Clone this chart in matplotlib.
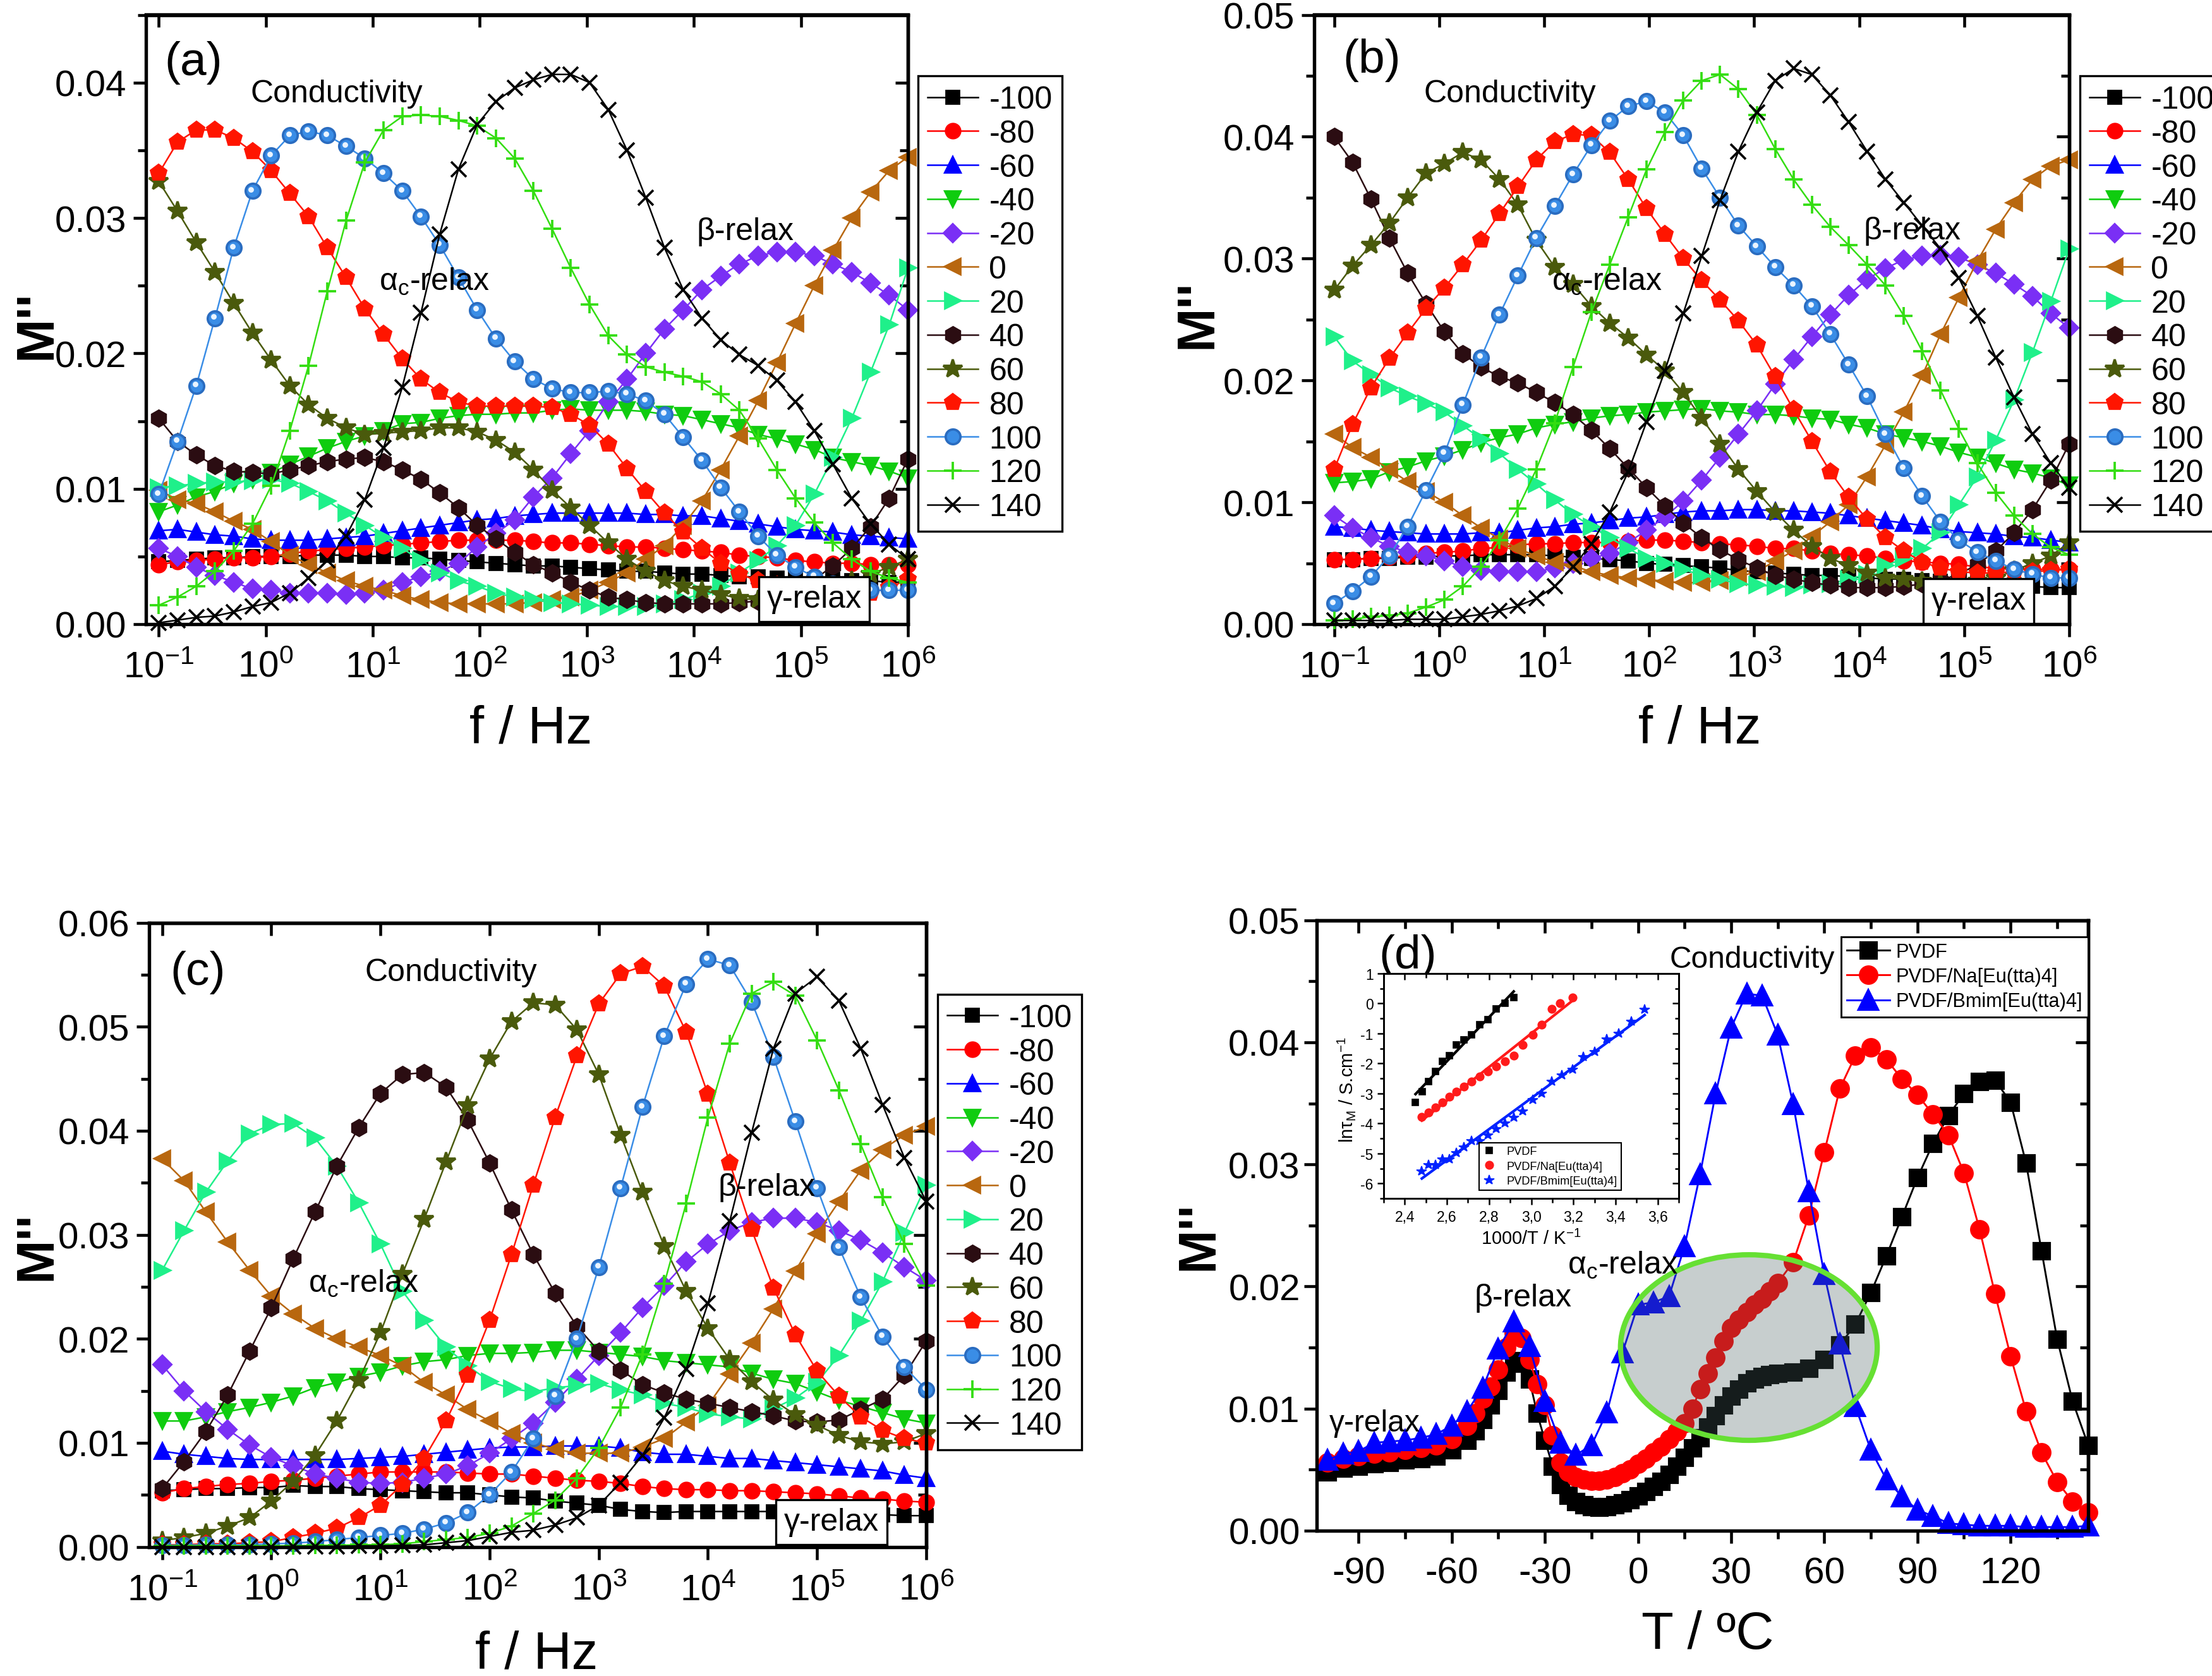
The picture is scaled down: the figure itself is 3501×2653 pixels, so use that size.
import numpy as np
import matplotlib
matplotlib.use("Agg")
import matplotlib.pyplot as plt
import matplotlib.transforms as mtransforms
from matplotlib.patches import Ellipse
from matplotlib.ticker import MultipleLocator, FuncFormatter, NullLocator, FixedLocator

plt.rcParams["font.family"] = ["Liberation Sans", "DejaVu Sans"]
plt.rcParams["mathtext.default"] = "regular"
plt.rcParams["axes.unicode_minus"] = False

# ---------------------------------------------------------------------------
# Data (M'' values in units of 1e-3)
# ---------------------------------------------------------------------------
TEMPS = ["-100", "-80", "-60", "-40", "-20", "0", "20", "40", "60", "80", "100", "120", "140"]
DECADES = [1e-1, 1e0, 1e1, 1e2, 1e3, 1e4, 1e5, 1e6]

# log10(f / Hz) of the sweeps in panels (a) and (b)
LOGF_AB = [-1.0, -0.825, -0.65, -0.475, -0.3, -0.125, 0.05, 0.225, 0.4, 0.575,
           0.75, 0.925, 1.1, 1.275, 1.45, 1.625, 1.8, 1.975, 2.15, 2.325,
           2.5, 2.675, 2.85, 3.025, 3.2, 3.375, 3.55, 3.725, 3.9, 4.075,
           4.25, 4.425, 4.6, 4.775, 4.95, 5.125, 5.3, 5.475, 5.65, 5.825, 6.0]
# log10(f / Hz) of the sweep in panel (c)
LOGF_C = [-1.0, -0.8, -0.6, -0.4, -0.2, 0.0, 0.2, 0.4, 0.6, 0.8,
          1.0, 1.2, 1.4, 1.6, 1.8, 2.0, 2.2, 2.4, 2.6, 2.8,
          3.0, 3.2, 3.4, 3.6, 3.8, 4.0, 4.2, 4.4, 4.6, 4.8,
          5.0, 5.2, 5.4, 5.6, 5.8, 6.0]

# panel (a)
a_m100 = [4.6, 4.7, 4.8, 4.9, 4.9, 5.0, 5.0, 5.0, 5.1, 5.1, 5.1, 5.0, 5.0, 4.9, 4.9, 4.8, 4.7, 4.6, 4.5, 4.4,
          4.3, 4.3, 4.2, 4.1, 4.0, 3.9, 3.9, 3.8, 3.7, 3.7, 3.6, 3.5, 3.5, 3.4, 3.4, 3.3, 3.3, 3.2, 3.2, 3.1, 3.1]
a_m80 = [4.4, 4.6, 4.7, 4.8, 4.9, 4.9, 5.0, 5.2, 5.4, 5.5, 5.6, 5.7, 5.8, 5.9, 6.0, 6.1, 6.2, 6.2, 6.2, 6.2,
         6.1, 6.0, 6.0, 5.9, 5.8, 5.7, 5.7, 5.6, 5.5, 5.4, 5.3, 5.1, 5.0, 4.9, 4.7, 4.6, 4.5, 4.5, 4.4, 4.4, 4.4]
a_m60 = [6.9, 7.0, 6.8, 6.6, 6.5, 6.3, 6.2, 6.2, 6.2, 6.3, 6.4, 6.5, 6.7, 6.9, 7.1, 7.3, 7.5, 7.7, 7.8, 8.0,
         8.1, 8.2, 8.2, 8.2, 8.2, 8.2, 8.1, 8.1, 8.0, 8.0, 7.8, 7.6, 7.4, 7.2, 7.0, 6.9, 6.8, 6.6, 6.5, 6.4, 6.3]
a_m40 = [8.3, 8.8, 9.4, 9.8, 10.4, 10.7, 11.2, 11.8, 12.4, 13.0, 13.5, 13.9, 14.3, 14.8, 14.9, 15.2, 15.4, 15.5,
         15.5, 15.6, 15.6, 15.8, 15.9, 15.8, 15.8, 15.8, 15.7, 15.5, 15.4, 15.1, 14.8, 14.5, 14.0, 13.7, 13.3,
         12.9, 12.3, 12.0, 11.7, 11.3, 10.8]
a_m20 = [5.6, 5.0, 4.2, 3.6, 3.1, 2.6, 2.5, 2.3, 2.3, 2.3, 2.2, 2.3, 2.5, 3.1, 3.5, 3.9, 4.5, 5.7, 6.7, 7.7,
         9.4, 10.8, 12.6, 14.3, 16.4, 18.1, 20.0, 21.8, 23.2, 24.7, 25.7, 26.6, 27.2, 27.5, 27.5, 27.2, 26.6,
         26.0, 25.2, 24.3, 23.2]
a_0 = [9.9, 9.2, 8.9, 8.3, 7.6, 7.0, 6.1, 5.1, 4.4, 3.8, 3.2, 2.8, 2.5, 2.1, 1.8, 1.6, 1.5, 1.5, 1.5, 1.5,
       1.6, 1.8, 2.0, 2.5, 3.1, 3.8, 4.8, 5.8, 7.3, 9.1, 11.4, 13.9, 16.5, 19.3, 22.2, 25.0, 27.6, 30.0, 31.9,
       33.5, 34.5]
a_20 = [10.1, 10.2, 10.4, 10.5, 10.5, 10.6, 10.7, 10.4, 9.8, 9.1, 8.2, 7.3, 6.4, 5.6, 4.7, 3.8, 3.2, 2.8, 2.3,
        2.0, 1.8, 1.6, 1.5, 1.4, 1.3, 1.3, 1.3, 1.5, 1.8, 2.3, 2.8, 3.8, 4.7, 5.8, 7.3, 9.6, 12.3, 15.2, 18.6,
        22.1, 26.3]
a_40 = [15.2, 13.5, 12.5, 11.7, 11.3, 11.2, 11.1, 11.4, 11.7, 12.0, 12.2, 12.3, 12.0, 11.4, 10.7, 9.7, 8.6, 7.3,
        6.3, 5.3, 4.4, 3.8, 3.1, 2.5, 2.0, 1.8, 1.6, 1.5, 1.5, 1.5, 1.5, 1.6, 1.7, 2.0, 2.5, 3.3, 4.3, 5.6, 7.2,
        9.3, 12.2]
a_60 = [32.7, 30.5, 28.2, 26.0, 23.7, 21.5, 19.5, 17.6, 16.2, 15.2, 14.5, 14.0, 14.1, 14.2, 14.3, 14.5, 14.5,
        14.2, 13.6, 12.7, 11.4, 9.9, 8.6, 7.3, 6.0, 4.8, 3.9, 3.2, 2.8, 2.5, 2.2, 1.9, 1.8, 1.9, 2.1, 2.4, 2.8,
        3.2, 3.7, 4.2, 4.8]
a_80 = [33.3, 35.6, 36.5, 36.5, 35.9, 34.9, 33.5, 31.8, 30.1, 27.8, 25.6, 23.3, 21.4, 19.6, 18.1, 17.1, 16.4,
        16.1, 16.1, 16.1, 16.1, 16.0, 15.5, 14.7, 13.3, 11.5, 9.8, 8.2, 6.8, 5.6, 4.5, 3.7, 3.2, 2.9, 2.6, 2.4,
        2.3, 2.2, 2.3, 2.7, 3.3]
a_100 = [9.6, 13.5, 17.6, 22.6, 27.8, 32.0, 34.6, 36.1, 36.4, 36.1, 35.3, 34.4, 33.3, 32.0, 30.1, 28.0, 25.6,
         23.2, 21.1, 19.4, 18.1, 17.4, 17.1, 17.1, 17.2, 17.0, 16.5, 15.5, 13.8, 12.1, 10.1, 8.3, 6.5, 5.1, 4.2,
         3.5, 3.0, 2.7, 2.5, 2.5, 2.5]
a_120 = [1.4, 2.0, 2.8, 3.9, 5.4, 7.4, 10.2, 14.3, 19.1, 24.6, 29.8, 34.1, 36.5, 37.5, 37.6, 37.5, 37.2, 36.8,
         35.9, 34.4, 32.0, 29.2, 26.3, 23.6, 21.3, 19.9, 19.0, 18.6, 18.3, 17.9, 17.0, 15.8, 13.7, 11.4, 9.3, 7.5,
         6.0, 4.8, 3.9, 3.4, 3.1]
a_140 = [0.1, 0.3, 0.5, 0.6, 0.9, 1.3, 1.6, 2.3, 3.4, 4.7, 6.5, 9.2, 13.0, 17.5, 23.0, 28.8, 33.6, 36.9, 38.6,
         39.6, 40.2, 40.6, 40.6, 40.0, 38.0, 35.0, 31.5, 27.8, 24.7, 22.6, 21.0, 19.9, 19.1, 18.0, 16.4, 14.3,
         11.8, 9.3, 7.4, 5.9, 4.8]

# panel (b)
b_m100 = [5.3, 5.3, 5.4, 5.4, 5.5, 5.5, 5.6, 5.6, 5.7, 5.7, 5.7, 5.7, 5.6, 5.5, 5.4, 5.3, 5.2, 5.0, 4.9, 4.8,
          4.7, 4.6, 4.4, 4.3, 4.2, 4.1, 4.0, 4.0, 3.9, 3.8, 3.7, 3.7, 3.6, 3.5, 3.5, 3.4, 3.3, 3.2, 3.1, 3.0, 3.0]
b_m80 = [5.3, 5.3, 5.4, 5.5, 5.6, 5.8, 5.9, 6.0, 6.2, 6.3, 6.5, 6.6, 6.6, 6.7, 6.7, 6.7, 6.8, 6.9, 6.9, 6.8,
         6.7, 6.6, 6.5, 6.4, 6.2, 6.2, 6.0, 5.8, 5.7, 5.6, 5.4, 5.2, 5.1, 5.0, 4.9, 4.7, 4.6, 4.5, 4.5, 4.5, 4.5]
b_m60 = [8.0, 7.9, 7.7, 7.6, 7.5, 7.4, 7.4, 7.4, 7.5, 7.5, 7.7, 7.9, 8.0, 8.2, 8.3, 8.5, 8.7, 8.8, 9.0, 9.2,
         9.3, 9.3, 9.4, 9.4, 9.3, 9.3, 9.2, 9.1, 8.9, 8.7, 8.5, 8.3, 8.1, 7.8, 7.6, 7.5, 7.4, 7.2, 7.1, 6.9, 6.7]
b_m40 = [11.6, 11.7, 11.9, 12.5, 12.9, 13.4, 13.8, 14.3, 14.9, 15.3, 15.6, 16.1, 16.4, 16.6, 16.9, 17.1, 17.2,
         17.4, 17.5, 17.6, 17.7, 17.5, 17.4, 17.2, 17.2, 17.1, 16.9, 16.8, 16.4, 16.1, 15.6, 15.3, 15.0, 14.6,
         14.1, 13.7, 13.2, 12.7, 12.4, 12.0, 11.4]
b_m20 = [8.9, 7.9, 7.1, 6.4, 5.9, 5.6, 5.2, 4.7, 4.4, 4.3, 4.3, 4.3, 4.6, 5.0, 5.4, 5.8, 6.7, 7.7, 8.8, 10.1,
         11.8, 13.7, 15.6, 17.5, 19.7, 21.7, 23.6, 25.4, 27.0, 28.3, 29.2, 29.9, 30.2, 30.3, 30.1, 29.5, 28.8,
         27.9, 26.9, 25.5, 24.3]
b_0 = [15.6, 14.5, 13.7, 12.7, 11.7, 10.9, 10.0, 8.9, 7.9, 7.0, 6.2, 5.6, 5.1, 4.8, 4.3, 4.0, 3.8, 3.7, 3.5,
       3.4, 3.4, 3.6, 3.9, 4.3, 5.2, 6.0, 7.2, 8.4, 9.8, 12.1, 14.7, 17.4, 20.4, 23.8, 26.8, 29.8, 32.4, 34.6,
       36.5, 37.6, 38.1]
b_20 = [23.6, 21.6, 20.5, 19.4, 18.7, 18.1, 17.4, 16.3, 15.2, 14.0, 12.7, 11.5, 10.2, 9.0, 8.0, 7.1, 6.2, 5.4,
        5.0, 4.5, 4.0, 3.7, 3.3, 3.2, 3.1, 3.0, 3.2, 3.3, 3.7, 4.1, 4.8, 5.4, 6.2, 7.5, 9.8, 12.1, 15.1, 18.4,
        22.3, 26.5, 30.8]
b_40 = [40.0, 37.9, 34.9, 31.7, 28.8, 26.3, 24.0, 22.2, 21.1, 20.3, 19.8, 19.0, 18.2, 17.2, 15.9, 14.4, 12.8,
        11.2, 9.7, 8.3, 7.1, 6.1, 5.3, 4.6, 4.0, 3.7, 3.4, 3.2, 3.0, 3.0, 3.0, 3.1, 3.3, 3.6, 4.1, 4.9, 6.0, 7.5,
        9.4, 11.8, 14.8]
b_60 = [27.4, 29.4, 31.1, 32.9, 35.0, 37.0, 37.8, 38.7, 38.1, 36.5, 34.4, 31.5, 29.3, 27.9, 26.1, 24.7, 23.5,
        22.1, 20.8, 19.0, 16.9, 14.8, 12.7, 10.9, 9.2, 7.7, 6.4, 5.4, 4.8, 4.2, 3.8, 3.7, 3.5, 3.4, 3.4, 3.5,
        3.8, 4.4, 5.0, 5.6, 6.7]
b_80 = [12.7, 16.4, 19.4, 21.8, 23.9, 25.9, 27.6, 29.5, 31.5, 33.7, 35.9, 38.1, 39.6, 40.2, 40.1, 38.7, 36.5,
        34.1, 32.0, 30.0, 28.2, 26.6, 24.9, 22.9, 20.3, 17.6, 15.0, 12.5, 10.4, 8.6, 7.1, 6.0, 5.1, 4.6, 4.3,
        4.2, 4.2, 4.3, 4.3, 4.4, 4.5]
b_100 = [1.7, 2.7, 3.9, 5.6, 8.0, 11.0, 14.0, 18.0, 21.9, 25.4, 28.6, 31.7, 34.3, 36.9, 39.3, 41.3, 42.5, 42.9,
         42.0, 40.1, 37.4, 35.0, 32.7, 31.0, 29.3, 27.8, 26.1, 23.8, 21.3, 18.7, 15.6, 12.8, 10.5, 8.4, 6.9, 5.9,
         5.2, 4.5, 4.1, 3.8, 3.8]
b_120 = [0.3, 0.4, 0.6, 0.7, 0.9, 1.4, 2.0, 3.1, 4.7, 6.9, 9.5, 12.7, 16.5, 21.1, 25.6, 29.5, 33.4, 37.3, 40.4,
         43.0, 44.6, 45.1, 43.9, 41.8, 39.0, 36.5, 34.4, 32.6, 31.1, 29.5, 27.8, 25.3, 22.4, 19.2, 16.0, 13.2,
         10.8, 8.9, 7.4, 6.3, 5.7]
b_140 = [0.3, 0.3, 0.3, 0.3, 0.4, 0.4, 0.4, 0.6, 0.8, 1.1, 1.5, 2.1, 3.1, 4.7, 6.6, 9.2, 12.5, 16.6, 20.8, 25.5,
         30.2, 34.8, 38.8, 42.0, 44.6, 45.6, 45.1, 43.4, 41.2, 38.8, 36.5, 34.6, 32.7, 30.8, 28.4, 25.3, 21.9,
         18.6, 15.6, 13.2, 11.2]

# panel (c)
c_m100 = [5.4, 5.5, 5.6, 5.6, 5.7, 5.7, 5.9, 5.8, 5.8, 5.6, 5.5, 5.4, 5.3, 5.2, 5.2, 5.0, 4.8, 4.7, 4.4, 4.2,
          4.0, 3.6, 3.4, 3.3, 3.4, 3.4, 3.4, 3.4, 3.4, 3.4, 3.3, 3.3, 3.2, 3.1, 3.0, 3.0]
c_m80 = [5.2, 5.6, 5.8, 6.0, 6.1, 6.3, 6.4, 6.6, 6.8, 7.0, 7.2, 7.2, 7.2, 7.2, 7.1, 7.0, 7.0, 6.8, 6.6, 6.4,
         6.3, 6.1, 5.8, 5.6, 5.5, 5.5, 5.4, 5.4, 5.3, 5.2, 5.1, 4.9, 4.7, 4.6, 4.4, 4.3]
c_m60 = [9.2, 8.9, 8.7, 8.5, 8.4, 8.4, 8.4, 8.4, 8.4, 8.5, 8.6, 8.7, 8.9, 9.1, 9.3, 9.5, 9.6, 9.6, 9.7, 9.7,
         9.7, 9.5, 9.1, 8.9, 8.9, 8.7, 8.5, 8.5, 8.3, 8.1, 7.9, 7.7, 7.5, 7.3, 6.9, 6.6]
c_m40 = [12.1, 12.1, 12.5, 13.0, 13.4, 13.9, 14.5, 15.3, 15.8, 16.4, 16.8, 17.4, 17.8, 18.0, 18.4, 18.6, 18.6,
         18.7, 18.9, 18.9, 18.7, 18.5, 18.3, 17.9, 17.7, 17.5, 17.3, 16.7, 16.1, 15.7, 14.9, 14.1, 13.5, 12.9,
         12.3, 11.9]
c_m20 = [17.5, 15.0, 13.0, 11.3, 9.8, 8.6, 7.8, 7.0, 6.6, 6.2, 6.1, 6.2, 6.6, 7.0, 7.8, 9.0, 10.4, 11.9, 13.9,
         16.1, 18.4, 20.6, 23.0, 25.1, 27.4, 29.1, 30.4, 31.2, 31.6, 31.6, 31.2, 30.4, 29.5, 28.3, 26.9, 25.6]
c_0 = [37.3, 35.2, 32.2, 29.3, 26.6, 24.1, 22.4, 21.0, 20.0, 19.2, 18.4, 17.4, 15.8, 14.6, 13.2, 12.1, 10.9,
       10.0, 9.4, 9.0, 9.0, 9.0, 9.6, 10.4, 12.0, 13.6, 16.6, 19.6, 22.9, 26.5, 30.1, 33.2, 36.2, 38.2, 39.6,
       40.4]
c_20 = [26.6, 30.4, 34.1, 37.1, 39.7, 40.6, 40.7, 39.3, 36.6, 33.1, 29.1, 24.6, 21.8, 19.2, 17.4, 15.9, 15.2,
        14.9, 15.3, 15.5, 15.7, 15.1, 14.6, 13.8, 13.4, 12.8, 12.5, 12.3, 13.3, 14.3, 15.8, 18.4, 21.7, 25.5,
        30.2, 34.8]
c_40 = [5.6, 8.2, 11.1, 14.6, 18.8, 23.0, 27.7, 32.2, 36.6, 40.3, 43.6, 45.4, 45.6, 44.2, 41.0, 36.9, 32.4, 28.1,
        24.4, 21.2, 18.8, 17.0, 15.6, 14.8, 14.2, 13.8, 13.4, 13.0, 12.6, 12.1, 12.0, 12.2, 13.2, 14.2, 16.5,
        19.8]
c_60 = [0.6, 0.9, 1.3, 2.0, 2.8, 4.4, 6.3, 8.8, 12.1, 16.0, 20.6, 26.2, 31.5, 37.0, 42.4, 46.9, 50.5, 52.3, 52.1,
        49.7, 45.4, 39.6, 34.1, 28.9, 24.6, 21.0, 18.0, 15.9, 14.1, 12.7, 11.7, 10.7, 10.1, 9.9, 10.1, 10.9]
c_80 = [0.2, 0.2, 0.3, 0.3, 0.4, 0.5, 0.9, 1.3, 1.8, 2.8, 4.0, 6.0, 8.5, 12.1, 16.5, 21.8, 28.1, 34.8, 41.3,
        47.2, 52.2, 55.1, 55.8, 53.9, 49.5, 43.5, 36.9, 30.5, 24.9, 20.4, 16.9, 14.5, 12.5, 11.2, 10.4, 10.0]
c_100 = [0.15, 0.15, 0.2, 0.2, 0.2, 0.3, 0.35, 0.5, 0.7, 0.9, 1.1, 1.3, 1.7, 2.3, 3.3, 5.0, 7.2, 10.4, 14.5,
         20.0, 26.9, 34.5, 42.3, 49.1, 54.1, 56.5, 55.9, 52.4, 47.1, 40.9, 34.5, 28.8, 24.0, 20.2, 17.3, 15.1]
c_120 = [0.1, 0.1, 0.1, 0.1, 0.1, 0.1, 0.1, 0.15, 0.15, 0.2, 0.2, 0.3, 0.5, 0.7, 0.9, 1.3, 2.0, 3.2, 4.5, 6.6,
         9.5, 13.4, 18.5, 25.3, 33.0, 41.3, 48.4, 53.2, 54.3, 53.0, 48.7, 43.9, 38.7, 33.6, 29.1, 25.1]
c_140 = [0.0, 0.0, 0.0, 0.0, 0.0, 0.0, 0.05, 0.05, 0.05, 0.1, 0.1, 0.15, 0.2, 0.4, 0.6, 1.0, 1.4, 1.6, 2.1, 2.8,
         4.0, 6.2, 8.8, 12.4, 17.1, 23.4, 31.3, 39.8, 47.9, 53.2, 54.8, 52.5, 47.9, 42.5, 37.4, 33.2]

PANEL_A = [a_m100, a_m80, a_m60, a_m40, a_m20, a_0, a_20, a_40, a_60, a_80, a_100, a_120, a_140]
PANEL_B = [b_m100, b_m80, b_m60, b_m40, b_m20, b_0, b_20, b_40, b_60, b_80, b_100, b_120, b_140]
PANEL_C = [c_m100, c_m80, c_m60, c_m40, c_m20, c_0, c_20, c_40, c_60, c_80, c_100, c_120, c_140]

# panel (d): M'' vs temperature
T_DENSE = [-100, -95, -90, -85, -80, -75, -70, -65, -60,
           -55, -52.5, -50, -47.5, -45, -42.5, -40, -37.5, -35, -32.5, -30,
           -27.5, -25, -22.5, -20, -17.5, -15, -12.5, -10, -7.5, -5,
           -2.5, 0, 2.5, 5, 7.5, 10, 12.5, 15, 17.5, 20,
           22.5, 25, 27.5, 30, 32.5, 35, 37.5, 40, 42.5, 45,
           50, 55, 60, 65, 70, 75, 80, 85, 90, 95,
           100, 105, 110, 115, 120, 125, 130, 135, 140, 145]
M_PVDF = [4.8, 5.1, 5.3, 5.5, 5.6, 5.8, 5.9, 6.1, 6.6,
          7.4, 8.2, 9.1, 10.3, 11.5, 13.0, 13.9, 13.7, 12.4, 9.6, 7.4,
          5.3, 3.8, 2.9, 2.4, 2.1, 1.95, 1.9, 1.95, 2.1, 2.3,
          2.55, 2.85, 3.2, 3.6, 4.05, 4.6, 5.3, 6.0, 6.8, 7.6,
          8.5, 9.4, 10.3, 11.0, 11.6, 12.1, 12.4, 12.6, 12.8, 12.9,
          13.0, 13.3, 14.0, 15.2, 16.9, 19.5, 22.5, 25.7, 28.9, 31.7,
          34.0, 35.8, 36.8, 36.9, 35.1, 30.1, 22.9, 15.7, 10.6, 7.0]
M_NA = [5.6, 5.9, 6.1, 6.3, 6.4, 6.6, 6.8, 7.0, 7.5,
        8.6, 9.6, 10.8, 11.8, 13.2, 15.0, 16.2, 15.8, 14.0, 12.0, 10.3,
        7.8, 5.6, 4.8, 4.4, 4.2, 4.1, 4.1, 4.2, 4.4, 4.7,
        5.0, 5.5, 5.9, 6.4, 6.9, 7.5, 8.1, 8.8, 10.0, 11.6,
        12.9, 14.2, 15.5, 16.6, 17.3, 17.9, 18.5, 19.0, 19.6, 20.3,
        22.0, 25.8, 31.0, 36.2, 38.9, 39.6, 38.6, 37.0, 35.7, 34.1,
        32.4, 29.3, 24.7, 19.4, 14.3, 9.8, 6.4, 4.0, 2.4, 1.5]
T_BMIM = [-100, -95, -90, -85, -80, -75, -70, -65, -60, -55,
          -50, -45, -40, -35, -30, -25, -20, -15, -10, -5,
          0, 5, 10, 15, 20, 25, 30, 35, 40, 45,
          50, 55, 60, 65, 70, 75, 80, 85, 90, 95,
          100, 105, 110, 115, 120, 125, 130, 135, 140, 145]
M_BMIM = [5.8, 6.3, 6.5, 7.2, 7.3, 7.4, 7.6, 7.9, 8.6, 9.8,
          11.7, 14.9, 17.1, 15.1, 10.6, 7.2, 6.2, 7.0, 9.7, 14.6,
          18.5, 18.7, 19.2, 23.3, 29.2, 35.8, 41.2, 44.0, 43.8, 40.6,
          34.9, 27.8, 21.0, 15.3, 10.2, 6.6, 4.2, 2.8, 1.7, 1.2,
          0.6, 0.5, 0.4, 0.4, 0.4, 0.3, 0.3, 0.3, 0.3, 0.4]
SAMPLES = ["PVDF", "PVDF/Na[Eu(tta)4]", "PVDF/Bmim[Eu(tta)4]"]

# inset: ln(tau_M) vs 1000/T
INV_T_PVDF = [2.451, 2.483, 2.513, 2.545, 2.578, 2.612, 2.646, 2.680, 2.717, 2.756, 2.795, 2.834, 2.875, 2.917]
LNTAU_PVDF = [-3.29, -2.95, -2.60, -2.26, -1.92, -1.74, -1.39, -1.21, -1.05, -0.70, -0.53, -0.18, 0.00, 0.20]
INV_T_NA = [2.481, 2.513, 2.545, 2.578, 2.612, 2.646, 2.682, 2.717, 2.756, 2.795, 2.834, 2.875, 2.917, 2.959,
            3.006, 3.050, 3.098, 3.137, 3.196]
LNTAU_NA = [-3.79, -3.63, -3.47, -3.29, -3.11, -2.95, -2.78, -2.60, -2.43, -2.26, -2.09, -1.92, -1.74, -1.39,
            -1.05, -0.70, -0.18, 0.00, 0.20]
INV_T_BMIM = [2.481, 2.513, 2.545, 2.578, 2.612, 2.646, 2.682, 2.717, 2.756, 2.795, 2.834, 2.875, 2.917, 2.959,
              3.006, 3.050, 3.098, 3.146, 3.196, 3.247, 3.301, 3.357, 3.414, 3.475, 3.538]
LNTAU_BMIM = [-5.59, -5.39, -5.39, -5.19, -5.19, -4.99, -4.80, -4.58, -4.58, -4.40, -4.19, -4.00, -3.80, -3.60,
              -3.21, -3.01, -2.60, -2.40, -2.20, -1.79, -1.61, -1.19, -1.00, -0.60, -0.20]

# ---------------------------------------------------------------------------
# Styles
# ---------------------------------------------------------------------------
STYLES = [
    dict(marker="s", color="#000000", ms=4.8),
    dict(marker="o", color="#ff0000", ms=5.4),
    dict(marker="^", color="#0000ff", ms=5.6),
    dict(marker="v", color="#0fcc0f", ms=5.6),
    dict(marker="D", color="#7a2ff5", ms=4.6),
    dict(marker="<", color="#b8670f", ms=5.6),
    dict(marker=">", color="#1ff08a", ms=5.6),
    dict(marker="h", color="#2b0d12", ms=6.0),
    dict(marker="*", color="#4a5a0c", ms=7.4),
    dict(marker="p", color="#ff1500", ms=6.2),
    dict(marker="o", color="#3a8de6", ms=5.6, sphere=True),
    dict(marker="+", color="#33dd11", ms=6.8),
    dict(marker="x", color="#000000", ms=5.6),
]

W, H = 3501, 2654
DPI = 300
fig = plt.figure(figsize=(W / DPI, H / DPI), dpi=DPI)
fig.patch.set_facecolor("white")


def fx(px):
    return px / W


def fy(py):
    return 1 - py / H


def frame(ax, logx, ymaj, xmaj=None, lw=1.3, tw=1.1, tl=4.8, labelsize=14, xpad=5, ypad=2.5):
    for sp in ax.spines.values():
        sp.set_linewidth(lw)
    ax.tick_params(which="both", direction="out", width=tw, labelsize=labelsize)
    ax.tick_params(which="major", length=tl)
    ax.tick_params(which="minor", length=tl * 0.65)
    ax.tick_params(axis="x", pad=xpad)
    ax.tick_params(axis="y", pad=ypad)
    ax.yaxis.set_major_locator(MultipleLocator(ymaj))
    ax.yaxis.set_minor_locator(MultipleLocator(ymaj / 2))
    if logx:
        ax.xaxis.set_major_locator(FixedLocator(DECADES))
        ax.xaxis.set_minor_locator(NullLocator())
    else:
        ax.xaxis.set_major_locator(MultipleLocator(xmaj))
        ax.xaxis.set_minor_locator(MultipleLocator(xmaj / 2))
    top = ax.secondary_xaxis("top")
    top.tick_params(which="both", direction="in", width=tw, labeltop=False)
    top.tick_params(which="major", length=tl)
    if logx:
        top.xaxis.set_major_locator(FixedLocator(DECADES))
        top.tick_params(which="minor", length=0)
    else:
        top.xaxis.set_major_locator(MultipleLocator(xmaj))
        top.xaxis.set_minor_locator(MultipleLocator(xmaj / 2))
        top.tick_params(which="minor", length=tl * 0.65)
    right = ax.secondary_yaxis("right")
    right.yaxis.set_major_locator(MultipleLocator(ymaj))
    right.yaxis.set_minor_locator(MultipleLocator(ymaj / 2))
    right.tick_params(which="both", direction="in", width=tw, labelright=False)
    right.tick_params(which="major", length=tl)
    right.tick_params(which="minor", length=tl * 0.65)
    for extra in (top, right):
        for sp in extra.spines.values():
            sp.set_linewidth(lw)


def freq_panel(ax, logf, series, xmin_exp, ytop, ymaj, tag, pos):
    f = 10.0 ** np.asarray(logf)
    handles = []
    for vals, st in zip(series, STYLES):
        y = np.asarray(vals) * 1e-3
        mfc = st["color"]
        mec = "#2a6cc0" if st.get("sphere") else st["color"]
        h, = ax.plot(f, y, marker=st["marker"], color=st["color"], ms=st["ms"], mfc=mfc, mec=mec,
                     mew=0.9, lw=0.6, clip_on=False)
        handles.append(h)
        if st.get("sphere"):
            shift = mtransforms.offset_copy(ax.transData, fig=fig, x=-0.5, y=0.6, units="points")
            ax.plot(f, y, "o", ms=st["ms"] * 0.38, color="#eaf4ff", mec="none", lw=0,
                    transform=shift, clip_on=False)
    ax.set_xscale("log")
    ax.set_xlim(10 ** xmin_exp, 1e6)
    ax.set_ylim(0, ytop)
    frame(ax, True, ymaj)
    ax.yaxis.set_major_formatter(FuncFormatter(lambda v, p: f"{v:.2f}"))

    tx, ty = pos["tag"]
    ax.text(tx, ty, tag, transform=ax.transAxes, fontsize=18, ha="left", va="center")
    cx, cy = pos["cond"]
    ax.text(cx, cy, "Conductivity", transform=ax.transAxes, fontsize=12, ha="left", va="center")
    ax_, ay = pos["alpha"]
    ax.text(ax_, ay, "α$_{c}$-relax", transform=ax.transAxes, fontsize=12, ha="left", va="center")
    bx, by = pos["beta"]
    ax.text(bx, by, "β-relax", transform=ax.transAxes, fontsize=12, ha="left", va="center")
    gx, gy = pos["gamma"]
    ax.text(gx, gy, "γ-relax", transform=ax.transAxes, fontsize=12, ha="center", va="center", zorder=10,
            bbox=dict(boxstyle="square,pad=0.25", fc="white", ec="black", lw=0.8))
    return handles


def temp_legend(handles, x, y):
    leg = fig.legend(handles, TEMPS, loc="upper left", bbox_to_anchor=(x, y),
                     bbox_transform=fig.transFigure, fontsize=12, frameon=True, fancybox=False,
                     edgecolor="black", framealpha=1, handlelength=1.6, handletextpad=0.35,
                     labelspacing=0.155, borderpad=0.3, borderaxespad=0)
    leg.get_frame().set_linewidth(0.8)


# ---------------------------------------------------------------------------
# Panels (a), (b), (c)
# ---------------------------------------------------------------------------
ax_a = fig.add_axes([fx(231), fy(989), fx(1437 - 231), (989 - 24.5) / H])
h_a = freq_panel(ax_a, LOGF_AB, PANEL_A, -1.12, 0.045, 0.01, "(a)",
                 dict(tag=(0.024, 0.922), cond=(0.137, 0.871), alpha=(0.306, 0.563),
                      beta=(0.723, 0.645), gamma=(0.877, 0.041)))
temp_legend(h_a, 0.415, 0.9544)

ax_b = fig.add_axes([fx(2080), fy(989), fx(3275 - 2080), (989 - 24.5) / H])
h_b = freq_panel(ax_b, LOGF_AB, PANEL_B, -1.19, 0.05, 0.01, "(b)",
                 dict(tag=(0.038, 0.926), cond=(0.145, 0.871), alpha=(0.315, 0.563),
                      beta=(0.728, 0.646), gamma=(0.880, 0.038)))
temp_legend(h_b, 0.9403, 0.9544)

ax_c = fig.add_axes([fx(236), fy(2449.6), fx(1466 - 236), (2449.6 - 1461.6) / H])
h_c = freq_panel(ax_c, LOGF_C, PANEL_C, -1.12, 0.06, 0.01, "(c)",
                 dict(tag=(0.027, 0.921), cond=(0.278, 0.921), alpha=(0.205, 0.423),
                      beta=(0.732, 0.577), gamma=(0.878, 0.040)))
temp_legend(h_c, 0.424, 0.4066)

# ---------------------------------------------------------------------------
# Panel (d)
# ---------------------------------------------------------------------------
ax_d = fig.add_axes([fx(2084), fy(2424), fx(3305 - 2084), (2424 - 1457.6) / H])
hd = []
h, = ax_d.plot(T_DENSE, np.asarray(M_PVDF) * 1e-3, "-s", color="black", ms=6.0, lw=0.7, clip_on=False)
hd.append(h)
h, = ax_d.plot(T_DENSE, np.asarray(M_NA) * 1e-3, "-o", color="#ff0000", ms=6.4, lw=0.7, clip_on=False)
hd.append(h)
h, = ax_d.plot(T_BMIM, np.asarray(M_BMIM) * 1e-3, "-^", color="#0000ff", ms=7.0, lw=0.7, clip_on=False)
hd.append(h)
ax_d.set_xlim(-103.5, 145)
ax_d.set_ylim(0, 0.05)
frame(ax_d, False, 0.01, xmaj=30)
ax_d.yaxis.set_major_formatter(FuncFormatter(lambda v, p: f"{v:.2f}"))
ax_d.tick_params(axis="y", pad=1.5)

ax_d.add_patch(Ellipse((35.7, 0.0150), 82.7, 0.0152, facecolor=(0.28, 0.37, 0.37, 0.30),
                       edgecolor="#66e033", lw=2.0, zorder=4))

ax_d.text(-83.4, 0.0471, "(d)", fontsize=18, ha="left", va="center")
ax_d.text(10.2, 0.0468, "Conductivity", fontsize=11.5, ha="left", va="center")
ax_d.text(-52.7, 0.0191, "β-relax", fontsize=12, ha="left", va="center", zorder=5)
ax_d.text(-22.7, 0.0218, "α$_{c}$-relax", fontsize=12, ha="left", va="center", zorder=5)
ax_d.text(-99.5, 0.0088, "γ-relax", fontsize=11.5, ha="left", va="center", zorder=5)

leg_d = ax_d.legend(hd, SAMPLES, loc="upper right", bbox_to_anchor=(1.0, 0.973), fontsize=7.4,
                    frameon=True, fancybox=False, edgecolor="black", framealpha=1, handlelength=2.2,
                    handletextpad=0.3, labelspacing=0.3, borderpad=0.3, borderaxespad=0)
leg_d.get_frame().set_linewidth(0.7)

# inset
ax_in = fig.add_axes([fx(2190), fy(1898), fx(2657 - 2190), (1898 - 1542) / H])
ax_in.set_facecolor("white")
inset_sets = [
    (INV_T_PVDF, LNTAU_PVDF, "s", "black", 2.6),
    (INV_T_NA, LNTAU_NA, "o", "#ff1a1a", 3.0),
    (INV_T_BMIM, LNTAU_BMIM, "*", "#0022ff", 3.8),
]
hin = []
for xs, ys, mk, col, ms in inset_sets:
    xs = np.asarray(xs)
    ys = np.asarray(ys)
    h, = ax_in.plot(xs, ys, mk, color=col, ms=ms, lw=0, mew=0.4)
    hin.append(h)
    coef = np.polyfit(xs, ys, 1)
    xl = np.array([xs.min(), xs.max()])
    ax_in.plot(xl, np.polyval(coef, xl), "-", color=col, lw=1.0)
ax_in.set_xlim(2.3, 3.7)
ax_in.set_ylim(-6.5, 1.0)
frame(ax_in, False, 1.0, xmaj=0.2, lw=0.7, tw=0.6, tl=2.4, labelsize=5.5, xpad=2, ypad=1.5)
ax_in.xaxis.set_major_formatter(FuncFormatter(lambda v, p: f"{v:.1f}".replace(".", ",")))
ax_in.yaxis.set_major_formatter(FuncFormatter(lambda v, p: f"{v:.0f}"))
leg_in = ax_in.legend(hin, SAMPLES, loc="lower left", bbox_to_anchor=(0.323, 0.037), fontsize=4.4,
                      frameon=True, fancybox=False, edgecolor="black", framealpha=1, handlelength=1.2,
                      handletextpad=0.9, labelspacing=0.35, borderpad=0.3, borderaxespad=0)
leg_in.get_frame().set_linewidth(0.5)
fig.text(fx(2423), fy(1961), "1000/T / K$^{-1}$", fontsize=7, ha="center", va="center")
fig.text(fx(2131), fy(1725), "lnτ$_{M}$ / S.cm$^{-1}$", fontsize=7, ha="center", va="center", rotation=90)

# ---------------------------------------------------------------------------
# Axis titles
# ---------------------------------------------------------------------------
for x, y in [(58, 514), (1895, 497), (58, 1972), (1897, 1956)]:
    fig.text(fx(x), fy(y), "M''", fontsize=20, fontweight="bold", rotation=90, ha="center", va="center")
for x, y in [(840, 1155), (2690, 1155), (849, 2620)]:
    fig.text(fx(x), fy(y), "f / Hz", fontsize=20, ha="center", va="center")
fig.text(fx(2703), fy(2588), "T / ºC", fontsize=20, ha="center", va="center")

fig.savefig("out.png", dpi=DPI, facecolor="white")
